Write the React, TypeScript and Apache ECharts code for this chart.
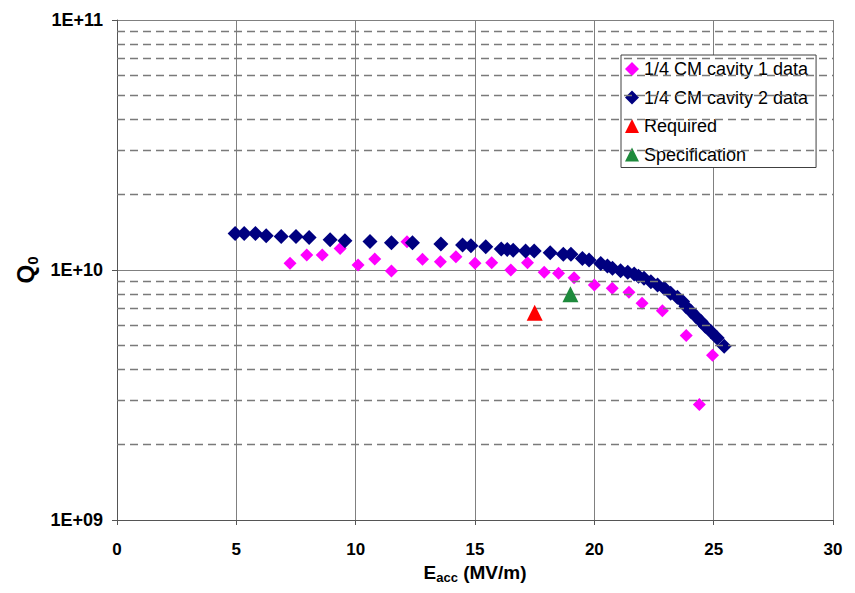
import React, { useEffect, useRef } from "react";
import * as echarts from "echarts";

// Cavity 1 data (pink)
const cav1E = [7.25, 7.95, 8.6, 9.35, 10.1, 10.8, 11.5, 12.15, 12.8, 13.55, 14.2, 15.0, 15.7, 16.5, 17.2, 17.9, 18.5, 19.15, 20.0, 20.75, 21.45, 22.0, 22.85, 23.85, 24.95, 24.4];
const cav1Q = [1.063e10, 1.148e10, 1.148e10, 1.22e10, 1.047e10, 1.106e10, 0.99e10, 1.296e10, 1.103e10, 1.079e10, 1.13e10, 1.063e10, 1.069e10, 1.0e10, 1.069e10, 0.979e10, 0.97e10, 0.932e10, 0.871e10, 0.846e10, 0.815e10, 0.737e10, 0.687e10, 0.547e10, 0.456e10, 0.29e10];

// Cavity 2 data (navy)
const cav2E = [4.95, 5.33, 5.8, 6.25, 6.88, 7.5, 8.05, 8.93, 9.55, 10.6, 11.5, 12.38, 13.57, 14.48, 14.83, 15.45, 16.1, 16.35, 16.6, 17.12, 17.48, 18.15, 18.7, 19.02, 19.5, 19.78, 20.27, 20.55, 20.76, 21.1, 21.4, 21.67, 21.85, 22.08, 22.37, 22.65, 22.93, 23.2, 23.48, 23.7, 23.84, 24.05, 24.26, 24.47, 24.65, 24.88, 25.15, 25.44];
const cav2Q = [1.4e10, 1.4e10, 1.4e10, 1.37e10, 1.36e10, 1.36e10, 1.35e10, 1.32e10, 1.31e10, 1.3e10, 1.285e10, 1.285e10, 1.27e10, 1.258e10, 1.25e10, 1.238e10, 1.213e10, 1.209e10, 1.2e10, 1.19e10, 1.19e10, 1.172e10, 1.155e10, 1.155e10, 1.113e10, 1.096e10, 1.062e10, 1.037e10, 1.016e10, 0.994e10, 0.98e10, 0.964e10, 0.945e10, 0.927e10, 0.898e10, 0.871e10, 0.846e10, 0.808e10, 0.778e10, 0.748e10, 0.714e10, 0.682e10, 0.652e10, 0.622e10, 0.596e10, 0.568e10, 0.534e10, 0.495e10];

const requiredPoint = [17.5, 0.675e10];
const specPoint = [19.0, 0.8e10];

const seriesNames = ["1/4 CM cavity 1 data", "1/4 CM cavity 2 data", "Required", "Specification"];
const xTicks = [0, 5, 10, 15, 20, 25, 30];
const minorGridQ = [2e9, 3e9, 4e9, 5e9, 6e9, 7e9, 8e9, 9e9, 2e10, 3e10, 4e10, 5e10, 6e10, 7e10, 8e10, 9e10];

const FONT = "'Liberation Sans', Arial, sans-serif";

export default function App() {
  const ref = useRef<HTMLDivElement>(null);
  useEffect(() => {
    if (!ref.current) return;
    const chart = echarts.init(ref.current, null, { renderer: "svg" });
    const zip = (a: number[], b: number[]) => a.map((v, i) => [v, b[i]]);
    chart.setOption({
      animation: false,
      backgroundColor: "#ffffff",
      textStyle: { fontFamily: FONT },
      grid: { left: 117, right: 22, top: 20, bottom: 73 },
      legend: {
        orient: "vertical",
        left: 621,
        top: 55,
        padding: [5, 8, 4, 4],
        itemGap: 10.5,
        itemWidth: 14,
        itemHeight: 14,
        borderColor: "#404040",
        borderWidth: 1,
        backgroundColor: "#ffffff",
        textStyle: { fontSize: 18, color: "#000", fontFamily: FONT },
        data: seriesNames,
      },
      xAxis: {
        type: "value",
        min: xTicks[0],
        max: xTicks[xTicks.length - 1],
        interval: 5,
        axisLine: { lineStyle: { color: "#555", width: 1 } },
        axisTick: { show: true, length: 5, lineStyle: { color: "#555" } },
        axisLabel: { fontSize: 17, fontWeight: "bold", color: "#000", margin: 21, fontFamily: FONT },
        splitLine: { show: true, lineStyle: { color: "#808080", width: 1 } },
        name: "{m|E}{s|acc}{m| (MV/m)}",
        nameLocation: "middle",
        nameGap: 38,
        nameTextStyle: {
          rich: {
            m: { fontSize: 19, fontWeight: "bold", color: "#000", fontFamily: FONT, lineHeight: 24 },
            s: { fontSize: 13, fontWeight: "bold", color: "#000", fontFamily: FONT, lineHeight: 10, verticalAlign: "bottom" },
          },
        },
      },
      yAxis: {
        type: "log",
        logBase: 10,
        min: 1e9,
        max: 1e11,
        axisLine: { show: true, lineStyle: { color: "#555", width: 1 } },
        axisTick: { show: true, length: 5, lineStyle: { color: "#555" } },
        axisLabel: {
          fontSize: 18,
          fontWeight: "bold",
          color: "#000",
          margin: 14,
          fontFamily: FONT,
          formatter: (v: number) => {
            const e = Math.round(Math.log10(v));
            return "1E+" + (e < 10 ? "0" + e : String(e));
          },
        },
        splitLine: { show: true, lineStyle: { color: "#808080", width: 1 } },
        name: "{m|Q}{s|0}",
        nameLocation: "middle",
        nameRotate: 90,
        nameGap: 72,
        nameTextStyle: {
          rich: {
            m: { fontSize: 24, fontWeight: "bold", color: "#000", fontFamily: FONT, lineHeight: 28 },
            s: { fontSize: 15, fontWeight: "bold", color: "#000", fontFamily: FONT, lineHeight: 12, verticalAlign: "bottom" },
          },
        },
      },
      series: [
        {
          name: "_minorGrid",
          type: "line",
          data: [],
          silent: true,
          z: 1,
          markLine: {
            silent: true,
            symbol: ["none", "none"],
            label: { show: false },
            lineStyle: { color: "#7a7a7a", type: [8, 5], width: 1.4, opacity: 1 },
            data: minorGridQ.map((q) => ({ yAxis: q })),
          },
        },
        {
          name: seriesNames[0],
          type: "scatter",
          symbol: "diamond",
          symbolSize: 13,
          itemStyle: { color: "#ff00ff", opacity: 1 },
          z: 3,
          data: zip(cav1E, cav1Q),
        },
        {
          name: seriesNames[1],
          type: "scatter",
          symbol: "diamond",
          symbolSize: 15,
          itemStyle: { color: "#000080", opacity: 1 },
          z: 4,
          data: zip(cav2E, cav2Q),
        },
        {
          name: seriesNames[2],
          type: "scatter",
          symbol: "triangle",
          symbolSize: 16,
          itemStyle: { color: "#ff0000", opacity: 1 },
          z: 5,
          data: [requiredPoint],
        },
        {
          name: seriesNames[3],
          type: "scatter",
          symbol: "triangle",
          symbolSize: 16,
          itemStyle: { color: "#1e8a3c", opacity: 1 },
          z: 5,
          data: [specPoint],
        },
      ],
    });
    return () => chart.dispose();
  }, []);
  return (
    <div
      ref={ref}
      style={{ position: "fixed", left: 0, top: 0, width: 855, height: 593, background: "#fff" }}
    />
  );
}
